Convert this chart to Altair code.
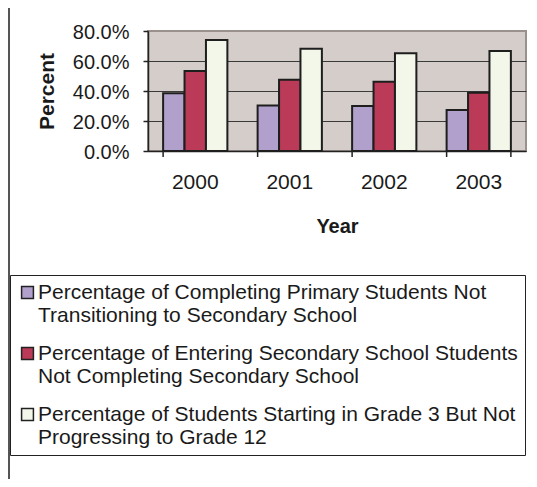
import altair as alt
import pandas as pd

# ---- data ----
years = ["2000", "2001", "2002", "2003"]
series = [
    "Percentage of Completing Primary Students Not\nTransitioning to Secondary School",
    "Percentage of Entering Secondary School Students\nNot Completing Secondary School",
    "Percentage of Students Starting in Grade 3 But Not\nProgressing to Grade 12",
]
primary_not_transitioning = [0.385, 0.304, 0.300, 0.273]
secondary_not_completing = [0.533, 0.475, 0.462, 0.389]
grade3_not_progressing = [0.740, 0.682, 0.652, 0.666]
y_ticks = [0.0, 0.2, 0.4, 0.6, 0.8]
colors = ["#B1A0CB", "#BA3A57", "#F3F7EA"]

rows = []
for name, vals in zip(series, [primary_not_transitioning, secondary_not_completing, grade3_not_progressing]):
    for yr, v in zip(years, vals):
        rows.append({"Year": yr, "Series": name, "Value": v})
df = pd.DataFrame(rows)
tick_df = pd.DataFrame({"Year": years})

FONT = "Liberation Sans"
INK = "#1a1a1a"

x_enc = alt.X(
    "Year:N",
    sort=years,
    scale=alt.Scale(paddingInner=0.32, paddingOuter=0.16),
    axis=alt.Axis(
        title="Year",
        labelAngle=0,
        ticks=False,
        labelFont=FONT,
        labelFontSize=21,
        labelColor=INK,
        labelPadding=20,
        domainColor="#222222",
        domainWidth=1.5,
        titleFont=FONT,
        titleFontSize=20,
        titleFontWeight="bold",
        titleColor=INK,
        titleX=189,
        titleY=65,
        titleBaseline="top",
    ),
)

bars = alt.Chart(df).mark_bar(stroke="#1e1e1e", strokeWidth=2).encode(
    x=x_enc,
    xOffset=alt.XOffset("Series:N", sort=series, scale=alt.Scale(domain=series, paddingInner=0, paddingOuter=0)),
    y=alt.Y(
        "Value:Q",
        scale=alt.Scale(domain=[0, 0.8], nice=False),
        axis=alt.Axis(
            title="Percent",
            values=y_ticks,
            format=".1%",
            labelFont=FONT,
            labelFontSize=20,
            labelColor=INK,
            labelPadding=14,
            labelOffset=1.5,
            tickSize=5,
            tickColor="#222222",
            tickWidth=1.5,
            domainColor="#222222",
            domainWidth=1.5,
            grid=True,
            gridColor=alt.condition("datum.value >= 0.79", alt.value("#9B918C"), alt.value("#3a3a3a")),
            gridWidth=1,
            titleFont=FONT,
            titleFontSize=21,
            titleFontWeight="bold",
            titleColor=INK,
            titleX=-95,
            titleY=60,
            titleBaseline="alphabetic",
        ),
    ),
    color=alt.Color(
        "Series:N",
        sort=series,
        scale=alt.Scale(domain=series, range=colors),
        legend=alt.Legend(
            title=None,
            orient="none",
            legendX=-138,
            legendY=244,
            direction="vertical",
            labelExpr="split(datum.label, '\\n')",
            labelFont=FONT,
            labelFontSize=21,
            labelColor=INK,
            labelLimit=700,
            labelOffset=0,
            symbolType="square",
            symbolSize=140,
            symbolStrokeColor="#222222",
            symbolStrokeWidth=1.5,
            rowPadding=16,
            strokeColor="#222222",
            fillColor="white",
            padding=7,
        ),
    ),
)

ticks_left = alt.Chart(tick_df).mark_rule(color="#222222", strokeWidth=1.5).encode(
    x=alt.X("Year:N", sort=years, bandPosition=0),
    y=alt.value(120),
    y2=alt.value(126),
)
ticks_right = (
    alt.Chart(tick_df)
    .transform_filter(alt.datum.Year == years[-1])
    .mark_rule(color="#222222", strokeWidth=1.5)
    .encode(x=alt.X("Year:N", sort=years, bandPosition=1), y=alt.value(120), y2=alt.value(126))
)

frame = alt.Chart(tick_df).mark_rule(color="#555555", strokeWidth=1.5).encode(
    x=alt.value(-139), y=alt.value(-23), y2=alt.value(448)
)

chart = (
    alt.layer(bars, ticks_left, ticks_right, frame)
    .properties(
        width=378,
        height=120,
        autosize=alt.AutoSizeParams(type="none"),
        padding={"left": 140, "top": 23, "right": 3, "bottom": 328},
        background="white",
    )
    .configure_view(fill="#D4CDC9", stroke="#9B918C", strokeWidth=2)
)

chart.save("out.html", embed_options={"renderer": "svg", "actions": False})
